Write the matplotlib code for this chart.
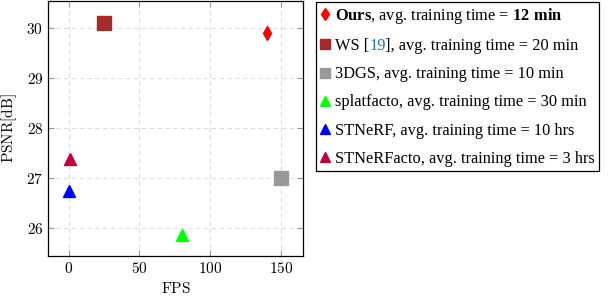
import matplotlib
matplotlib.use("Agg")
import matplotlib.pyplot as plt
from matplotlib.lines import Line2D
from matplotlib.transforms import IdentityTransform

plt.rcParams['font.family'] = 'Liberation Serif'
plt.rcParams['mathtext.fontset'] = 'cm'
plt.rcParams['mathtext.rm'] = 'Liberation Serif'
plt.rcParams['mathtext.bf'] = 'Liberation Serif:bold'

# data
methods = ["Ours", "WS", "3DGS", "splatfacto", "STNeRF", "STNeRFacto"]
fps = [140, 25, 150, 80, 0, 1]
psnr = [29.9, 30.1, 27.0, 25.85, 26.73, 27.38]
train_time = ["12 min", "20 min", "10 min", "30 min", "10 hrs", "3 hrs"]
colors = ["#ff0000", "#a52a2a", "#999999", "#00ff00", "#0000ff", "#bf0040"]
markers = ["d", "s", "s", "^", "^", "^"]
sizes = [7, 10, 10, 9, 9, 9]
xticks = [0, 50, 100, 150]
yticks = [26, 27, 28, 29, 30]

fig = plt.figure(figsize=(6.08, 2.96), dpi=100)
ax = fig.add_axes([48 / 608, 1 - 256 / 296, 255 / 608, 255 / 296])

for m, x, y, c, mk, s in zip(methods, fps, psnr, colors, markers, sizes):
    ax.plot(x, y, linestyle="none", marker=mk, color=c, markersize=s, zorder=3)

ax.set_xlim(-14.5, 165.5)
ax.set_ylim(25.43, 30.53)
ax.set_xticks(xticks)
ax.set_yticks(yticks)
ax.set_xticklabels([f"${v}$" for v in xticks], fontsize=11)
ax.set_yticklabels([f"${v}$" for v in yticks], fontsize=11)
ax.set_xlabel(r"$\mathrm{FPS}$", fontsize=11, labelpad=4)
ax.set_ylabel(r"$\mathrm{PSNR[dB]}$", fontsize=11, labelpad=5)
ax.grid(True, linestyle=(0, (4, 3)), color="#dddddd", linewidth=0.8)
ax.tick_params(direction="in", top=True, right=True, length=4, color="#999999")
for sp in ax.spines.values():
    sp.set_linewidth(0.9)

lfs = 11.8
handles = []
labels = []
for m, c, mk, t in zip(methods, colors, markers, train_time):
    handles.append(Line2D([], [], linestyle="none", marker=mk, color=c,
                          markersize=6 if mk == "d" else 7))
    if m == "Ours":
        labels.append(r"$\mathbf{Ours}$, avg. training time = $\mathbf{12\ min}$")
    elif m == "WS":
        labels.append("WS [")
    else:
        labels.append(m + ", avg. training time = " + t)

leg = fig.legend(handles, labels, loc="upper left",
                 bbox_to_anchor=(316 / 608, 1 - 2 / 296), bbox_transform=fig.transFigure,
                 borderaxespad=0, fontsize=lfs, labelspacing=0.74, handlelength=0.6,
                 handletextpad=0.3, borderpad=0.25, fancybox=False, framealpha=1,
                 edgecolor="black")
leg.get_frame().set_linewidth(0.9)
for t in leg.get_texts():
    t.set_math_fontfamily("custom")

# rest of the WS entry, with the citation number in blue
fig.canvas.draw()
r = fig.canvas.get_renderer()
ws_text = leg.get_texts()[1]
bb = ws_text.get_window_extent(r)
base = ws_text.get_transform().transform(ws_text.get_position())
cite = fig.text(bb.x1, base[1], "19", fontsize=lfs, color="#2a6ebb", zorder=10,
                transform=IdentityTransform(), va="baseline", ha="left")
cb = cite.get_window_extent(r)
fig.text(cb.x1, base[1], "], avg. training time = " + train_time[1], fontsize=lfs,
         zorder=10, transform=IdentityTransform(), va="baseline", ha="left")

fig.savefig("out.png", dpi=100)
